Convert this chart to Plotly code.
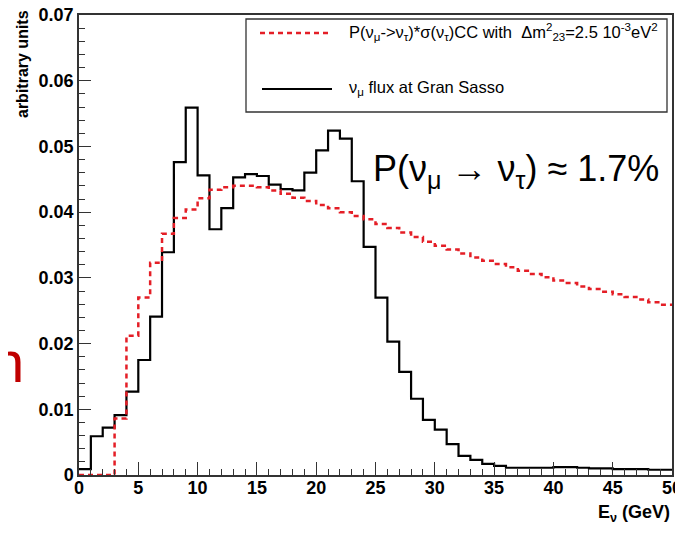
import plotly.graph_objects as go

# ---- data (1 GeV bins, 0-50 GeV) ------------------------------------------
bin_edges = list(range(51))

numu_flux = [
    0.0009, 0.0059, 0.0072, 0.0091, 0.0127, 0.0175, 0.0241, 0.0339, 0.0476, 0.0559,
    0.0456, 0.0374, 0.0406, 0.0453, 0.0458, 0.0455, 0.0442, 0.0435, 0.0433, 0.0460,
    0.0494, 0.0524, 0.0512, 0.0447, 0.0347, 0.0270, 0.0203, 0.0157, 0.0116, 0.0084,
    0.0069, 0.0047, 0.0029, 0.0023, 0.0017, 0.0014, 0.0011, 0.0011, 0.0011, 0.0011,
    0.0012, 0.0012, 0.0011, 0.0010, 0.0010, 0.0009, 0.0009, 0.0009, 0.0008, 0.0008,
]

nutau_cc = [
    0.0, 0.0, 0.0, 0.0086, 0.0212, 0.0270, 0.0323, 0.0367, 0.0391, 0.0404,
    0.0421, 0.0434, 0.0438, 0.0440, 0.0440, 0.0438, 0.0433, 0.0428, 0.0422, 0.0417,
    0.0411, 0.0406, 0.0400, 0.0394, 0.0389, 0.0382, 0.0376, 0.0369, 0.0362, 0.0355,
    0.0349, 0.0343, 0.0337, 0.0331, 0.0326, 0.0321, 0.0316, 0.0311, 0.0306, 0.0301,
    0.0296, 0.0292, 0.0287, 0.0283, 0.0279, 0.0275, 0.0271, 0.0267, 0.0263, 0.0259,
]

y_ticks = [0, 0.01, 0.02, 0.03, 0.04, 0.05, 0.06, 0.07]
y_ticktext = ["0", "0.01", "0.02", "0.03", "0.04", "0.05", "0.06", "0.07"]
x_ticks = [0, 5, 10, 15, 20, 25, 30, 35, 40, 45, 50]

LEG_RED = "P(ν<sub>μ</sub>->ν<sub>τ</sub>)*σ(ν<sub>τ</sub>)CC with  Δm<sup>2</sup><sub>23</sub>=2.5 10<sup>-3</sup>eV<sup>2</sup>"
LEG_BLACK = "ν<sub>μ</sub> flux at Gran Sasso"
NOTE = "P(ν<sub>μ</sub> → ν<sub>τ</sub>) ≈ 1.7%"

# ---- geometry --------------------------------------------------------------
# the page body has an 8px margin, so the figure is shrunk to fit the window
# and the margins trimmed so the plot frame lands at 79..672 x 15..475
OFF = 8
W, H = 683 - OFF, 533 - 2 * OFF
L, R, T = 79 - OFF, 11, 15 - OFF
B = H - T - 460
PW, PH = W - L - R, H - T - B


def px(x):
    return (x - 79) / PW


def py(y):
    return (475 - y) / PH


RED = "#e41e26"
FONT = "Liberation Sans"

fig = go.Figure()

# histograms drawn as steps from the bin edges
fig.add_trace(go.Scatter(
    x=bin_edges, y=numu_flux + numu_flux[-1:],
    mode="lines", line=dict(color="black", width=2.2, shape="hv"),
    name="ν_μ flux at Gran Sasso", showlegend=False,
))
fig.add_trace(go.Scatter(
    x=bin_edges, y=nutau_cc + nutau_cc[-1:],
    mode="lines", line=dict(color=RED, width=2.5, shape="hv", dash="5px,4px"),
    name="P(ν_μ->ν_τ)*σ(ν_τ)CC", showlegend=False,
))

# ---- ROOT-like legend box ----------------------------------------------------
shapes = [
    dict(type="rect", xref="paper", yref="paper",
         x0=px(246), x1=px(667), y0=py(112), y1=py(19),
         line=dict(color="#333", width=1.3), fillcolor="white", layer="above"),
    dict(type="line", xref="paper", yref="paper",
         x0=px(260), x1=px(330), y0=py(33), y1=py(33),
         line=dict(color=RED, width=2.5, dash="5px,4px"), layer="above"),
    dict(type="line", xref="paper", yref="paper",
         x0=px(262), x1=px(332), y0=py(89), y1=py(89),
         line=dict(color="black", width=2.2), layer="above"),
]

annotations = [
    dict(text=LEG_RED, xref="paper", yref="paper", x=px(347), y=py(32),
         xanchor="left", yanchor="middle", showarrow=False,
         font=dict(family=FONT, size=16.5, color="black")),
    dict(text=LEG_BLACK, xref="paper", yref="paper", x=px(347), y=py(88),
         xanchor="left", yanchor="middle", showarrow=False,
         font=dict(family=FONT, size=16.5, color="black")),
    dict(text=NOTE, xref="paper", yref="paper", x=px(371), y=py(171),
         xanchor="left", yanchor="middle", showarrow=False,
         font=dict(family=FONT, size=36, color="black")),
    dict(text="arbitrary units", xref="paper", yref="paper", x=px(23), y=py(8),
         xanchor="center", yanchor="top", textangle=-90, showarrow=False,
         font=dict(family=FONT, size=16, color="black", weight="bold")),
    dict(text="E<sub>ν</sub> (GeV)", xref="paper", yref="paper", x=px(672), y=py(500),
         xanchor="right", yanchor="top", showarrow=False,
         font=dict(family=FONT, size=18, color="black", weight="bold")),
    dict(text="n", xref="paper", yref="paper", x=px(26), y=py(361),
         xanchor="right", yanchor="middle", showarrow=False,
         font=dict(family=FONT, size=58, color="#c00000")),
]

fig.update_layout(
    width=W, height=H,
    margin=dict(l=L, r=R, t=T, b=B, autoexpand=False),
    paper_bgcolor="white", plot_bgcolor="white",
    showlegend=False,
    shapes=shapes, annotations=annotations,
    font=dict(family=FONT, color="black"),
)

fig.update_xaxes(
    range=[0, 50], tickvals=x_ticks, automargin=False, ticklabeloverflow="allow",
    ticks="inside", ticklen=13, tickwidth=1.2, tickcolor="#333",
    minor=dict(ticks="inside", ticklen=6, dtick=1, tickcolor="#333", tickwidth=1),
    showline=True, linecolor="#333", linewidth=1.5, mirror=True,
    showgrid=False, zeroline=False, ticklabelstandoff=-4,
    tickfont=dict(family=FONT, size=18, color="black", weight="bold"),
)
fig.update_yaxes(
    range=[0, 0.07], tickvals=y_ticks, ticktext=y_ticktext, automargin=False,
    ticklabeloverflow="allow",
    ticks="inside", ticklen=12, tickwidth=1.2, tickcolor="#333",
    minor=dict(ticks="inside", ticklen=6, dtick=0.002, tickcolor="#333", tickwidth=1),
    showline=True, linecolor="#333", linewidth=1.5, mirror=True,
    showgrid=False, zeroline=False,
    tickfont=dict(family=FONT, size=18, color="black", weight="bold"),
)

fig.write_html("out.html")
